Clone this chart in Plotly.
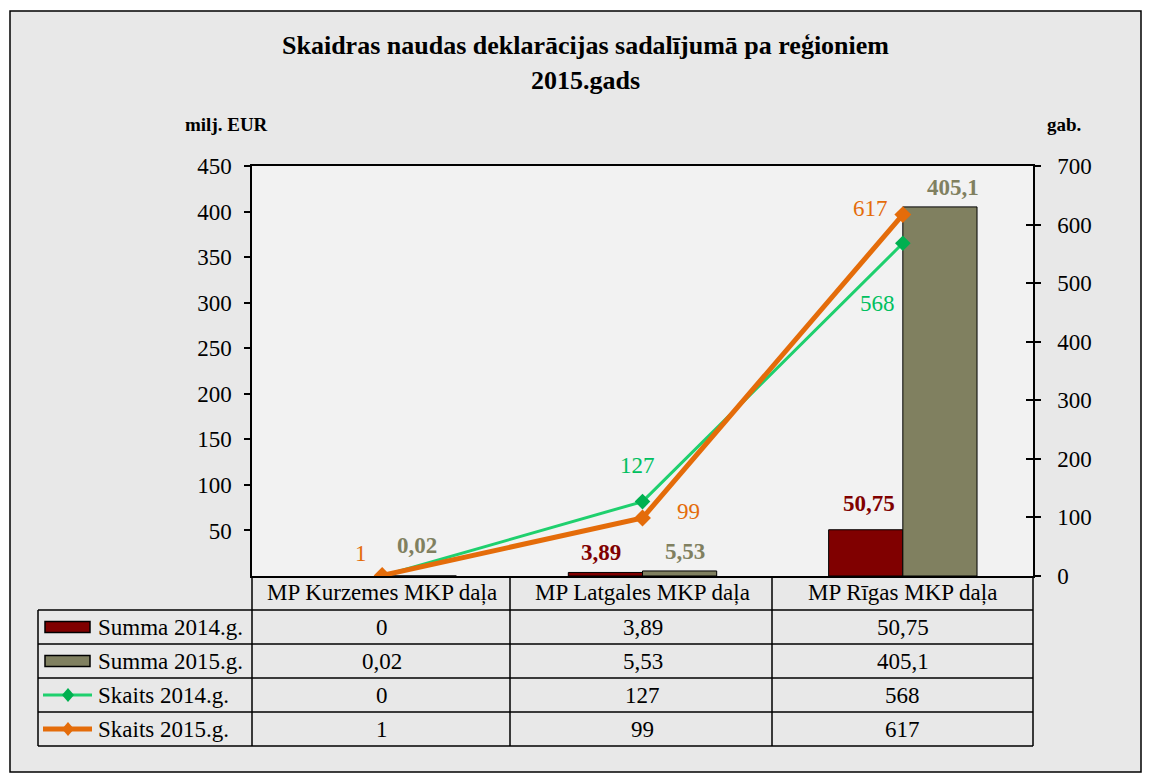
import plotly.graph_objects as go

# ---------------- data ----------------
categories = ["MP Kurzemes MKP daļa", "MP Latgales MKP daļa", "MP Rīgas MKP daļa"]
summa_2014 = [0, 3.89, 50.75]
summa_2015 = [0.02, 5.53, 405.1]
skaits_2014 = [0, 127, 568]
skaits_2015 = [1, 99, 617]
series_names = ["Summa 2014.g.", "Summa 2015.g.", "Skaits 2014.g.", "Skaits 2015.g."]
title_lines = ["Skaidras naudas deklarācijas sadalījumā pa reģioniem", "2015.gads"]
left_unit = "milj. EUR"
right_unit = "gab."
left_ticks = [50, 100, 150, 200, 250, 300, 350, 400, 450]
right_ticks = [0, 100, 200, 300, 400, 500, 600, 700]

# ---------------- styles ----------------
FONT = "Liberation Serif, serif"
C_2014 = "#800000"
C_2015 = "#808060"
C_GREEN = "#1fd06e"
C_GREEN_M = "#00b050"
C_ORANGE = "#e46c0a"
FS = 23

W, H = 1151, 780          # window size
OFF = 8                   # page body margin
L, R, T, B = 252, 1033, 166, 576  # plot area in window pixels


def fmt(v):
    return ("%g" % v).replace(".", ",")


def px(x):
    return (x - L) / (R - L)


def py(y):
    return (B - y) / (B - T)


def outline(vals):
    # no outline for empty (zero) bars
    return [0 if v == 0 else 1 for v in vals]


fig = go.Figure()

fig.add_trace(go.Bar(x=categories, y=summa_2014, name=series_names[0],
                     marker=dict(color=C_2014, line=dict(color="black", width=outline(summa_2014))),
                     yaxis="y"))
fig.add_trace(go.Bar(x=categories, y=summa_2015, name=series_names[1],
                     marker=dict(color=C_2015, line=dict(color="black", width=outline(summa_2015))),
                     yaxis="y"))
fig.add_trace(go.Scatter(x=categories, y=skaits_2014, name=series_names[2], yaxis="y2",
                         mode="lines+markers",
                         line=dict(color=C_GREEN, width=3),
                         marker=dict(symbol="diamond", size=12, color=C_GREEN_M,
                                     line=dict(width=0))))
fig.add_trace(go.Scatter(x=categories, y=skaits_2015, name=series_names[3], yaxis="y2",
                         mode="lines+markers",
                         line=dict(color=C_ORANGE, width=5),
                         marker=dict(symbol="diamond", size=13, color=C_ORANGE,
                                     line=dict(width=0))))

annotations = []
BARGAP = 0.43
half = (1 - BARGAP) / 4  # offset of each bar centre from category centre


def ann(**kw):
    d = dict(showarrow=False, xanchor="center", yanchor="middle")
    d.update(kw)
    annotations.append(d)


# bar value labels (offsets in px are styling)
bar14_shift = [(0, 0), (-4, 20), (3, 26)]
bar15_shift = [(-2, 30), (5, 19), (13, 19)]
for i, v in enumerate(summa_2014):
    if v != 0:
        ann(x=i - half, y=v, xref="x", yref="y", text="<b>%s</b>" % fmt(v),
            xshift=bar14_shift[i][0], yshift=bar14_shift[i][1],
            font=dict(family=FONT, size=FS, color=C_2014))
for i, v in enumerate(summa_2015):
    if v != 0:
        ann(x=i + half, y=v, xref="x", yref="y", text="<b>%s</b>" % fmt(v),
            xshift=bar15_shift[i][0], yshift=bar15_shift[i][1],
            font=dict(family=FONT, size=FS, color=C_2015))

sk14_shift = [(0, 0), (-5, 36), (-25, -60)]
sk15_shift = [(-21, 22), (46, 7), (-32, 6)]
for i, v in enumerate(skaits_2014):
    if v != 0:
        ann(x=i, y=v, xref="x", yref="y2", text=str(v),
            xshift=sk14_shift[i][0], yshift=sk14_shift[i][1],
            font=dict(family=FONT, size=FS, color="#00c060"))
for i, v in enumerate(skaits_2015):
    if v != 0:
        ann(x=i, y=v, xref="x", yref="y2", text=str(v),
            xshift=sk15_shift[i][0], yshift=sk15_shift[i][1],
            font=dict(family=FONT, size=FS, color=C_ORANGE))

# title & unit labels
ann(x=px(585), y=py(46), xref="paper", yref="paper", text="<b>%s</b>" % title_lines[0],
    font=dict(family=FONT, size=26, color="black"))
ann(x=px(585), y=py(80), xref="paper", yref="paper", text="<b>%s</b>" % title_lines[1],
    font=dict(family=FONT, size=26, color="black"))
ann(x=px(226), y=py(125), xref="paper", yref="paper", text="<b>%s</b>" % left_unit,
    font=dict(family=FONT, size=19, color="black"))
ann(x=px(1064), y=py(125), xref="paper", yref="paper", text="<b>%s</b>" % right_unit,
    font=dict(family=FONT, size=19, color="black"))

# ---------------- data table ----------------
row_y = [610, 644, 678, 712, 746]
header_mid = (576 + 610) / 2
table_left = 38
col_x = [L, 510, 772, R]
for i, c in enumerate(categories):
    ann(x=i, y=py(header_mid), xref="x", yref="paper", text=c,
        font=dict(family=FONT, size=FS, color="black"))
rows = [summa_2014, summa_2015, skaits_2014, skaits_2015]
for r, vals in enumerate(rows):
    ymid = (row_y[r] + row_y[r + 1]) / 2
    for i, v in enumerate(vals):
        ann(x=i, y=py(ymid), xref="x", yref="paper", text=fmt(v),
            font=dict(family=FONT, size=FS, color="black"))
    ann(x=px(96), y=py(ymid), xref="paper", yref="paper", text=series_names[r],
        xanchor="left", font=dict(family=FONT, size=FS, color="black"))

shapes = []
# outer frame and plot background
shapes.append(dict(type="rect", xref="paper", yref="paper", x0=px(10), x1=px(1141), y0=py(772), y1=py(11),
                   fillcolor="#e8e8e8", line=dict(color="black", width=1.5), layer="below"))
shapes.append(dict(type="rect", xref="paper", yref="paper", x0=0, x1=1, y0=0, y1=1,
                   fillcolor="#f2f2f2", line=dict(width=0), layer="below"))
LW = 1.5
for y in row_y:
    shapes.append(dict(type="line", xref="paper", yref="paper", x0=px(table_left), x1=px(R),
                       y0=py(y), y1=py(y), line=dict(color="black", width=LW)))
for x in col_x:
    shapes.append(dict(type="line", xref="paper", yref="paper", x0=px(x), x1=px(x),
                       y0=py(576), y1=py(746), line=dict(color="black", width=LW)))
shapes.append(dict(type="line", xref="paper", yref="paper", x0=px(table_left), x1=px(table_left),
                   y0=py(610), y1=py(746), line=dict(color="black", width=LW)))
# legend keys
for r, col in enumerate([C_2014, C_2015]):
    ymid = (row_y[r] + row_y[r + 1]) / 2
    shapes.append(dict(type="rect", xref="paper", yref="paper", x0=px(45), x1=px(90),
                       y0=py(ymid + 5.5), y1=py(ymid - 5.5), fillcolor=col,
                       line=dict(color="black", width=1.5)))
for r, (col, mcol, w) in zip([2, 3], [(C_GREEN, C_GREEN_M, 3), (C_ORANGE, C_ORANGE, 5)]):
    ymid = (row_y[r] + row_y[r + 1]) / 2
    shapes.append(dict(type="line", xref="paper", yref="paper", x0=px(43), x1=px(92),
                       y0=py(ymid), y1=py(ymid), line=dict(color=col, width=w)))
    cx = 68
    path = "M %f,%f L %f,%f L %f,%f L %f,%f Z" % (px(cx - 6), py(ymid), px(cx), py(ymid - 7),
                                                  px(cx + 6), py(ymid), px(cx), py(ymid + 7))
    shapes.append(dict(type="path", xref="paper", yref="paper", path=path, fillcolor=mcol,
                       line=dict(width=0)))

tickfont = dict(family=FONT, size=FS, color="black")
CLEAR = "rgba(0,0,0,0)"
fig.update_layout(
    width=W - OFF, height=H - OFF, autosize=False,
    margin=dict(l=L - OFF, r=W - R, t=T - OFF, b=H - B, pad=0),
    paper_bgcolor="white", plot_bgcolor="rgba(0,0,0,0)",
    barmode="group", bargap=BARGAP, bargroupgap=0,
    showlegend=False,
    xaxis=dict(type="category", categoryorder="array", categoryarray=categories, range=[-0.5, 2.5],
               showticklabels=False, ticks="", showline=True, linecolor="black", linewidth=1.5,
               mirror=True, showgrid=False, zeroline=False, fixedrange=True),
    # label-carrying axes (transparent long ticks push the labels away from the axis)
    yaxis=dict(range=[0, 450], tickmode="array", tickvals=left_ticks, ticks="outside", ticklen=14,
               tickwidth=1.5, tickcolor=CLEAR, showline=True, linecolor="black", linewidth=1.5,
               showgrid=False, zeroline=False, tickfont=tickfont),
    yaxis2=dict(range=[0, 700], tickmode="array", tickvals=right_ticks,
                overlaying="y", side="right",
                ticks="outside", ticklen=18, tickwidth=1.5, tickcolor=CLEAR, showline=True,
                linecolor="black", linewidth=1.5, showgrid=False, zeroline=False, tickfont=tickfont),
    # visible tick marks
    yaxis3=dict(range=[0, 450], tickmode="array", tickvals=left_ticks, overlaying="y", side="left",
                ticks="outside", ticklen=7, tickwidth=1.5, tickcolor="black", showline=False,
                showticklabels=False, showgrid=False, zeroline=False),
    yaxis4=dict(range=[0, 700], tickmode="array", tickvals=right_ticks, overlaying="y", side="right",
                ticks="outside", ticklen=7, tickwidth=1.5, tickcolor="black", showline=False,
                showticklabels=False, showgrid=False, zeroline=False),
    yaxis5=dict(range=[0, 700], tickmode="array", tickvals=right_ticks, overlaying="y", side="right",
                ticks="inside", ticklen=7, tickwidth=1.5, tickcolor="black", showline=False,
                showticklabels=False, showgrid=False, zeroline=False),
    annotations=annotations,
    shapes=shapes,
)
# invisible helper traces so the tick-mark axes are drawn
for ax in ["y3", "y4", "y5"]:
    fig.add_trace(go.Scatter(x=[categories[0]], y=[0], yaxis=ax, mode="markers",
                             marker=dict(opacity=0), hoverinfo="skip", showlegend=False))

fig.write_html("out.html")
